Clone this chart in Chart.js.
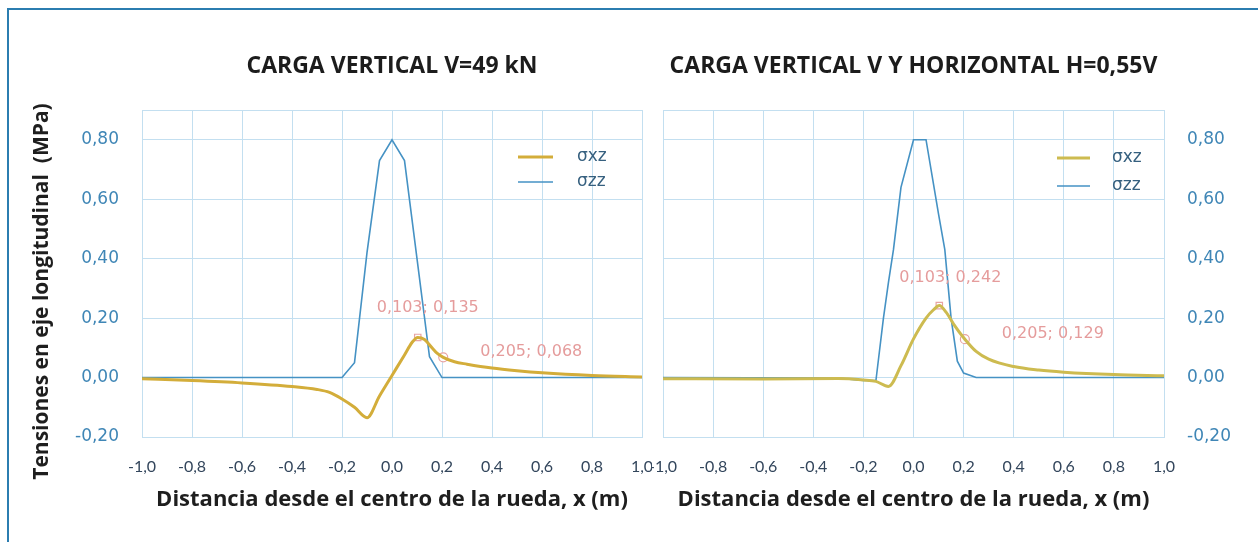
<!DOCTYPE html>
<html>
<head>
<meta charset="utf-8">
<script src="https://cdn.jsdelivr.net/npm/chart.js@4.4.1/dist/chart.umd.min.js"></script>
<style>
  html, body { margin: 0; padding: 0; background: #fff; }
  body { width: 1258px; height: 542px; position: relative; overflow: hidden; }
  #frame { position: absolute; left: 7px; top: 8px; right: -10px; bottom: -10px;
           border-top: 2px solid #2b7db0; border-left: 2px solid #2b7db0; }
  .box { position: absolute; top: 10px; height: 532px; }
  #box-v { left: 10px; width: 642px; }
  #box-vh { left: 652px; width: 606px; }
</style>
</head>
<body>
<div id="frame"></div>
<div class="box" id="box-v"><canvas id="chart-v"></canvas></div>
<div class="box" id="box-vh"><canvas id="chart-vh"></canvas></div>
<script>
// ---- data ----
const seriesNames = ['σxz', 'σzz'];
const chartTitles = ['CARGA VERTICAL V=49 kN', 'CARGA VERTICAL V Y HORIZONTAL H=0,55V'];
const xTitle = 'Distancia desde el centro de la rueda, x (m)';
const yTitle = 'Tensiones en eje longitudinal  (MPa)';

// left: vertical load only
const xV_sxz = [-1.0, -0.8, -0.6, -0.4, -0.3, -0.25, -0.2, -0.15, -0.1, -0.05, 0.0, 0.05, 0.08, 0.103, 0.13, 0.16, 0.18, 0.205, 0.25, 0.3, 0.4, 0.5, 0.6, 0.8, 1.0];
const yV_sxz = [-0.004, -0.01, -0.018, -0.03, -0.04, -0.05, -0.072, -0.1, -0.135, -0.062, 0.007, 0.076, 0.118, 0.135, 0.128, 0.1, 0.082, 0.068, 0.053, 0.045, 0.032, 0.023, 0.016, 0.007, 0.002];
const xV_szz = [-1.0, -0.2, -0.15, -0.1, -0.05, 0.0, 0.05, 0.1, 0.15, 0.2, 1.0];
const yV_szz = [0, 0, 0.05, 0.42, 0.73, 0.80, 0.73, 0.40, 0.07, 0.0, 0];
const markV_x = [0.103, 0.205];
const markV_y = [0.135, 0.068];

// right: vertical + horizontal load
const xVH_sxz = [-1.0, -0.6, -0.3, -0.2, -0.15, -0.1, -0.05, 0.0, 0.05, 0.08, 0.103, 0.13, 0.16, 0.205, 0.25, 0.3, 0.4, 0.5, 0.6, 0.8, 1.0];
const yVH_sxz = [-0.004, -0.005, -0.003, -0.008, -0.013, -0.03, 0.04, 0.13, 0.2, 0.228, 0.242, 0.22, 0.18, 0.129, 0.088, 0.062, 0.037, 0.025, 0.018, 0.01, 0.006];
const xVH_szz = [-1.0, -0.3, -0.2, -0.15, -0.12, -0.1, -0.08, -0.05, 0.0, 0.05, 0.08, 0.1, 0.125, 0.15, 0.175, 0.2, 0.25, 1.0];
const yVH_szz = [0, -0.002, -0.01, -0.01, 0.2, 0.32, 0.43, 0.64, 0.80, 0.80, 0.65, 0.55, 0.43, 0.2, 0.055, 0.015, 0, 0];
const markVH_x = [0.103, 0.205];
const markVH_y = [0.242, 0.129];

// ---- helpers ----
const pts = (xs, ys) => xs.map((x, i) => ({x: x, y: ys[i]}));
const fmt = (v, d) => (Math.abs(v) < 1e-9 ? 0 : v).toFixed(d).replace('.', ',');

const GRID = '#c3dff0';
const GOLD = '#d3ad3a';
const GOLD2 = '#cdbb50';
const BLUE = '#4592c4';

// legend, point labels and y title drawn inside the chart
const overlay = {
  id: 'overlay',
  afterDatasetsDraw(chart, args, o) {
    const ctx = chart.ctx, a = chart.chartArea;
    ctx.save();
    // legend
    ctx.font = '17px "DejaVu Sans"';
    ctx.textBaseline = 'middle';
    ctx.textAlign = 'left';
    chart.data.datasets.forEach((ds, i) => {
      if (ds.noLegend) return;
      const y = a.top + o.legTop + i * o.legGap;
      ctx.strokeStyle = ds.borderColor;
      ctx.lineWidth = ds.borderWidth;
      ctx.beginPath();
      ctx.moveTo(a.right + o.legLine[0], y);
      ctx.lineTo(a.right + o.legLine[1], y);
      ctx.stroke();
      ctx.fillStyle = '#36607f';
      ctx.fillText(ds.label, a.right + o.legText, y);
    });
    // point labels
    const meta = chart.getDatasetMeta(2);
    const data = chart.data.datasets[2].data;
    ctx.font = '16px "DejaVu Sans"';
    ctx.textAlign = 'center';
    ctx.fillStyle = '#e59c9c';
    meta.data.forEach((el, j) => {
      const off = o.labelOff[j];
      ctx.fillText(fmt(data[j].x, 3) + '; ' + fmt(data[j].y, 3), el.x + off[0], el.y + off[1]);
    });
    // y title
    if (o.yTitle) {
      ctx.translate(o.yTitleX, (a.top + a.bottom) / 2 + 18);
      ctx.rotate(-Math.PI / 2);
      ctx.font = 'bold 21px "Open Sans"';
      ctx.fillStyle = '#1e1e1e';
      ctx.fillText(o.yTitle, 0, 0);
    }
    ctx.restore();
  }
};

function makeChart(id, title, sxz, szz, marks, goldColor, yPos, pad, legend) {
  const ctx = document.getElementById(id).getContext('2d');
  return new Chart(ctx, {
    type: 'scatter',
    data: {
      datasets: [{
        label: seriesNames[0],
        data: sxz,
        showLine: true,
        borderColor: goldColor,
        borderWidth: 3,
        pointRadius: 0,
        cubicInterpolationMode: 'monotone'
      }, {
        label: seriesNames[1],
        data: szz,
        showLine: true,
        borderColor: BLUE,
        borderWidth: 1.6,
        pointRadius: 0
      }, {
        label: 'marks',
        noLegend: true,
        data: marks,
        showLine: false,
        pointStyle: ['rect', 'circle'],
        pointRadius: 4.5,
        pointBorderWidth: 1.2,
        pointBorderColor: '#e7a3a3',
        pointBackgroundColor: 'rgba(255,255,255,0.9)'
      }]
    },
    options: {
      responsive: true,
      maintainAspectRatio: false,
      animation: false,
      layout: { padding: pad },
      scales: {
        x: {
          type: 'linear',
          min: -1, max: 1,
          grid: { color: GRID, drawTicks: false },
          border: { color: GRID },
          ticks: {
            stepSize: 0.2, autoSkip: false, maxRotation: 0, padding: 20,
            color: '#33465c', font: { family: 'Lato', size: 16 },
            callback: v => fmt(v, 1)
          },
          title: {
            display: true, text: xTitle, color: '#1e1e1e',
            font: { family: 'Open Sans', size: 22, weight: 'bold' },
            padding: { top: 0, bottom: 29 }
          },
          afterFit: s => { s.height = 105; s.paddingLeft = 0; s.paddingRight = 0; }
        },
        y: {
          type: 'linear',
          position: yPos,
          min: -0.2, max: 0.9,
          grid: { color: GRID, drawTicks: false },
          border: { color: GRID },
          ticks: {
            stepSize: 0.2, includeBounds: false, padding: 23,
            color: '#3f86b6', font: { family: 'DejaVu Sans', size: 17 },
            callback: v => (Math.abs(v - 0.9) < 1e-6 ? '' : fmt(v, 2))
          },
          afterBuildTicks: s => { s.ticks.push({value: 0.9}); },
          afterFit: s => { s.width = yPos === 'left' ? 132 : 94; }
        }
      },
      plugins: {
        legend: { display: false },
        tooltip: { enabled: false },
        title: {
          display: true, text: title, fullSize: false, color: '#1c1c1c',
          font: { family: 'Open Sans', size: 23, weight: 'bold' },
          padding: { top: 42.2, bottom: 30.2 }
        },
        overlay: legend
      }
    },
    plugins: [overlay]
  });
}

makeChart('chart-v', chartTitles[0], pts(xV_sxz, yV_sxz), pts(xV_szz, yV_szz), pts(markV_x, markV_y),
  GOLD, 'left', { top: 0, bottom: 0, left: 0, right: 10 },
  { legTop: 47, legGap: 25, legLine: [-124, -89], legText: -65,
    labelOff: [[10, -30], [88, -5]], yTitle: yTitle, yTitleX: 32 });

makeChart('chart-vh', chartTitles[1], pts(xVH_sxz, yVH_sxz), pts(xVH_szz, yVH_szz), pts(markVH_x, markVH_y),
  GOLD2, 'right', { top: 0, bottom: 0, left: 11, right: 0 },
  { legTop: 48, legGap: 28, legLine: [-107, -74], legText: -52,
    labelOff: [[11, -28], [88, -5]], yTitle: null });
</script>
</body>
</html>
